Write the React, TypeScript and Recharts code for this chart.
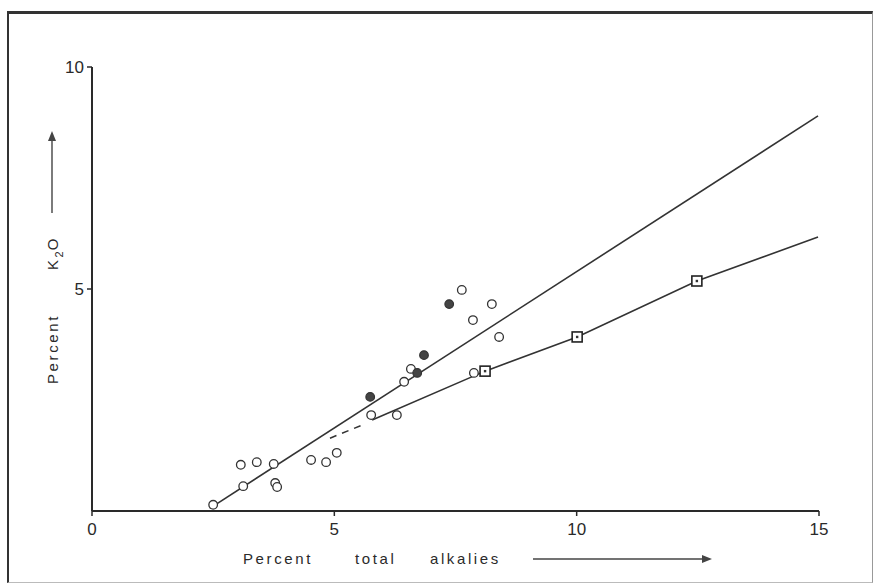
import React from "react";
import { ScatterChart, Scatter, XAxis, YAxis } from "recharts";

// Open circles (percent total alkalies, percent K2O)
const openCircles = [
  { x: 2.5, y: 0.14 },
  { x: 3.12, y: 0.56 },
  { x: 3.07, y: 1.04 },
  { x: 3.4, y: 1.1 },
  { x: 3.75, y: 1.06 },
  { x: 3.78, y: 0.63 },
  { x: 3.82, y: 0.54 },
  { x: 4.52, y: 1.15 },
  { x: 4.83, y: 1.1 },
  { x: 5.05, y: 1.31 },
  { x: 5.76, y: 2.16 },
  { x: 6.29, y: 2.16 },
  { x: 6.44, y: 2.91 },
  { x: 6.58, y: 3.2 },
  { x: 7.63, y: 4.98 },
  { x: 7.86, y: 4.3 },
  { x: 8.25, y: 4.66 },
  { x: 8.4, y: 3.92 },
  { x: 7.88, y: 3.11 },
];

// Filled circles
const filledCircles = [
  { x: 5.74, y: 2.57 },
  { x: 6.71, y: 3.11 },
  { x: 6.85, y: 3.51 },
  { x: 7.37, y: 4.66 },
];

// Squares
const squares = [
  { x: 8.11, y: 3.15 },
  { x: 10.01, y: 3.92 },
  { x: 12.48, y: 5.18 },
];

// Upper straight line
const upperLine = [
  { x: 2.43, y: 0.06 },
  { x: 14.98, y: 8.9 },
];

// Lower line (through squares)
const lowerLine = [
  { x: 5.78, y: 2.05 },
  { x: 8.11, y: 3.15 },
  { x: 10.01, y: 3.92 },
  { x: 12.48, y: 5.18 },
  { x: 14.98, y: 6.17 },
];

// Dashed extension of lower line
const dashedLine = [
  { x: 4.91, y: 1.64 },
  { x: 5.63, y: 1.96 },
];

const xTicks = [0, 5, 10, 15];
const yTicks = [5, 10];

const FONT = "'Liberation Sans', 'DejaVu Sans', sans-serif";
const INK = "#2a2a2a";

const Nothing = () => <g />;

const OpenDot = (p: any) => (
  <circle cx={p.cx} cy={p.cy} r={4.3} fill="#fff" stroke="#333" strokeWidth={1.3} />
);
const FilledDot = (p: any) => (
  <circle cx={p.cx} cy={p.cy} r={4.3} fill="#444" stroke="#333" strokeWidth={1.2} />
);
const SquareDot = (p: any) => (
  <g>
    <rect x={p.cx - 5} y={p.cy - 5} width={10} height={10} fill="#fff" stroke="#222" strokeWidth={1.6} />
    <rect x={p.cx - 1.2} y={p.cy - 1.2} width={2.4} height={2.4} fill="#333" />
  </g>
);

export default function App() {
  return (
    <div style={{ position: "absolute", left: 0, top: 0, width: 877, height: 588, background: "#fff", overflow: "hidden" }}>
      <div
        style={{
          position: "absolute",
          left: 7,
          top: 11,
          width: 866,
          height: 572,
          boxSizing: "border-box",
          borderTop: "3px solid #333",
          borderLeft: "2px solid #333",
          borderRight: "1px solid #999",
          borderBottom: "1px solid #bbb",
        }}
      />
      <div style={{ position: "absolute", left: 0, top: 0 }}>
        <ScatterChart width={877} height={588} margin={{ top: 67, right: 58, bottom: 47, left: 52 }}>
          <XAxis
            type="number"
            dataKey="x"
            domain={[0, 15]}
            ticks={xTicks}
            height={30}
            tickSize={5}
            tickMargin={7}
            axisLine={{ stroke: INK, strokeWidth: 2 }}
            tickLine={{ stroke: INK, strokeWidth: 1.5 }}
            tick={{ fontSize: 17, fill: INK, fontFamily: FONT }}
            allowDataOverflow
          />
          <YAxis
            type="number"
            dataKey="y"
            domain={[0, 10]}
            ticks={yTicks}
            width={40}
            tickSize={5}
            tickMargin={3}
            axisLine={{ stroke: INK, strokeWidth: 2 }}
            tickLine={{ stroke: INK, strokeWidth: 1.5 }}
            tick={{ fontSize: 17, fill: INK, fontFamily: FONT }}
            allowDataOverflow
          />
          <Scatter data={upperLine} line={{ stroke: "#333", strokeWidth: 1.6 }} shape={Nothing} isAnimationActive={false} />
          <Scatter data={lowerLine} line={{ stroke: "#333", strokeWidth: 1.6 }} shape={Nothing} isAnimationActive={false} />
          <Scatter
            data={dashedLine}
            line={{ stroke: "#333", strokeWidth: 1.5, strokeDasharray: "7 6" }}
            shape={Nothing}
            isAnimationActive={false}
          />
          <Scatter data={openCircles} shape={OpenDot} isAnimationActive={false} />
          <Scatter data={filledCircles} shape={FilledDot} isAnimationActive={false} />
          <Scatter data={squares} shape={SquareDot} isAnimationActive={false} />
        </ScatterChart>
      </div>
      <svg width={877} height={588} style={{ position: "absolute", left: 0, top: 0, pointerEvents: "none" }}>
        <text y={564} fontSize={15} fill={INK} fontFamily={FONT} letterSpacing={2.6}>
          <tspan x={243}>Percent</tspan>
          <tspan x={355}>total</tspan>
          <tspan x={430}>alkalies</tspan>
        </text>
        <line x1={533} y1={559} x2={705} y2={559} stroke="#444" strokeWidth={1.4} />
        <polygon points="712,559 702,555 702,563" fill="#444" />
        <g transform="translate(58,384) rotate(-90)">
          <text x={0} y={0} fontSize={15} fill={INK} fontFamily={FONT} letterSpacing={2.6}>
            <tspan>Percent</tspan>
            <tspan x={114}>K</tspan>
            <tspan fontSize={11} dy={5} letterSpacing={1}>2</tspan>
            <tspan dy={-5}>O</tspan>
          </text>
        </g>
        <line x1={52} y1={213} x2={52} y2={139} stroke="#444" strokeWidth={1.4} />
        <polygon points="52,131 48,141 56,141" fill="#444" />
      </svg>
    </div>
  );
}
